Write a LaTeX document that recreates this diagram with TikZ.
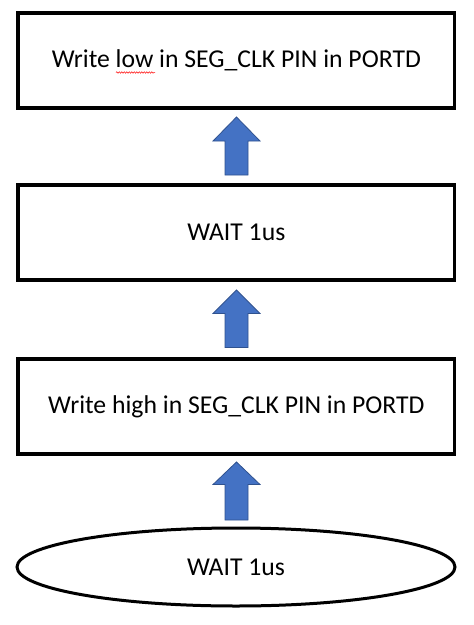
\documentclass[tikz,border=0pt]{standalone}
\usepackage{fontspec}
\setmainfont{Carlito}
\usetikzlibrary{decorations.pathmorphing,calc,shapes.geometric}
\definecolor{arrowfill}{HTML}{4472C4}
\definecolor{arrowline}{HTML}{2F528F}
\tikzset{
  stepbox/.style={draw=black, line width=3.5pt, minimum width=436.7pt, minimum height=95pt, inner sep=0pt, font=\fontsize{25.7}{30}\selectfont},
  endoval/.style={draw=black, line width=3pt, ellipse, minimum width=438pt, minimum height=78pt, inner sep=0pt, font=\fontsize{25.7}{30}\selectfont},
  blockarrow/.style={fill=arrowfill, draw=arrowline, line width=0.8pt, line join=miter},
}
\begin{document}
\begin{tikzpicture}[x=1pt,y=-1pt]
\useasboundingbox (0,0) rectangle (474,625);
\node[stepbox] (b1) at (236.35,60.5) {Write low in SEG\_CLK PIN in PORTD};
\node[stepbox] (b2) at (236.35,232.5) {WAIT 1us};
\node[stepbox] (b3) at (236.35,406.5) {Write high in SEG\_CLK PIN in PORTD};
\node[endoval] (e) at (236,567) {WAIT 1us};
% block arrows
\foreach \tip/\base/\bot in {117/141/175, 290/313.5/347.5, 462/484.5/520}{
  \draw[blockarrow] (236.5,\tip) -- (260,\base) -- (248,\base) -- (248,\bot) -- (225,\bot) -- (225,\base) -- (213,\base) -- cycle;
}
% spell-check underline
\draw[red, line width=0.5pt, decorate, decoration={snake, amplitude=0.7pt, segment length=2.5pt}] (116,72.5) -- (155,72.5);
\end{tikzpicture}
\end{document}
